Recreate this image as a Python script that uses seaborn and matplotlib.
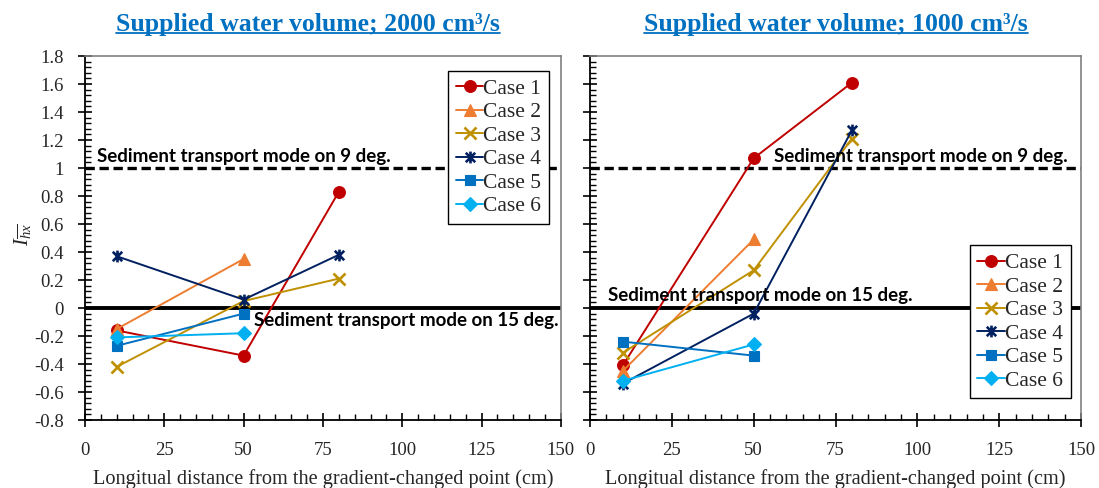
import matplotlib
matplotlib.use("Agg")
import matplotlib.pyplot as plt
import seaborn as sns
import pandas as pd
from matplotlib.ticker import MultipleLocator, FuncFormatter
from matplotlib.lines import Line2D
from matplotlib.path import Path

# ---------------- data ----------------
cases = ["Case 1", "Case 2", "Case 3", "Case 4", "Case 5", "Case 6"]
distance_cm = [10, 50, 80]

# Supplied water volume 2000 cm3/s
q2000_case1 = [-0.16, -0.34, 0.83]
q2000_case2 = [-0.15, 0.35]
q2000_case3 = [-0.42, 0.05, 0.21]
q2000_case4 = [0.37, 0.06, 0.38]
q2000_case5 = [-0.27, -0.04]
q2000_case6 = [-0.21, -0.18]

# Supplied water volume 1000 cm3/s
q1000_case1 = [-0.41, 1.07, 1.61]
q1000_case2 = [-0.45, 0.49]
q1000_case3 = [-0.32, 0.27, 1.21]
q1000_case4 = [-0.54, -0.04, 1.27]
q1000_case5 = [-0.24, -0.34]
q1000_case6 = [-0.52, -0.26]

titles = ["Supplied water volume; 2000 cm\u00b3/s", "Supplied water volume; 1000 cm\u00b3/s"]
xlabel = "Longitual distance from the gradient-changed point (cm)"
ylabel = r"$I_{\overline{hx}}$"
ref_levels = [1.0, 0.0]
ref_labels = ["Sediment transport mode on 9 deg.", "Sediment transport mode on 15 deg."]

colors = ["#C00000", "#ED7D31", "#BF9000", "#002060", "#0070C0", "#00B0F0"]

# Excel-like "star" marker: an x plus a vertical bar
star = Path([(-1, -1), (1, 1), (-1, 1), (1, -1), (0, -1.25), (0, 1.25)],
            [Path.MOVETO, Path.LINETO, Path.MOVETO, Path.LINETO, Path.MOVETO, Path.LINETO])
markers = ["o", "^", "x", star, "s", "D"]
msizes = [8.5, 9, 8.5, 8.5, 7.5, 7]

panels = [
    [q2000_case1, q2000_case2, q2000_case3, q2000_case4, q2000_case5, q2000_case6],
    [q1000_case1, q1000_case2, q1000_case3, q1000_case4, q1000_case5, q1000_case6],
]

# ---------------- style ----------------
sns.set_theme(style="ticks")
plt.rcParams["font.family"] = ["Liberation Serif", "DejaVu Serif"]
plt.rcParams["axes.unicode_minus"] = False
plt.rcParams["mathtext.fontset"] = "custom"
plt.rcParams["mathtext.it"] = "Liberation Serif:italic"
plt.rcParams["mathtext.rm"] = "Liberation Serif"

fig = plt.figure(figsize=(10.99, 4.88), dpi=100)
ax_pos = [[0.0773, 0.1393, 0.4331, 0.7459], [0.5369, 0.1393, 0.4468, 0.7459]]
title_x = [0.468, 0.501]
legend_loc = [("upper right", (0.975, 0.959)), ("lower right", (0.979, 0.060))]
text_pos = [[(3.8, 1.025), (53.3, -0.03)], [(56.2, 1.025), (5.5, 0.03)]]

axes = []
for p in range(2):
    ax = fig.add_axes(ax_pos[p])
    axes.append(ax)
    rows = []
    for ci, vals in enumerate(panels[p]):
        for xi, v in zip(distance_cm, vals):
            rows.append({"case": cases[ci], "x": xi, "I": v})
    df = pd.DataFrame(rows)

    # reference levels
    ax.axhline(ref_levels[0], color="black", lw=2.4, ls=(0, (2.8, 1.4)), zorder=1)
    ax.axhline(ref_levels[1], color="black", lw=2.8, zorder=1)

    for ci, case in enumerate(cases):
        sub = df[df["case"] == case]
        mk = markers[ci]
        filled = mk not in ("x",) and not isinstance(mk, Path)
        sns.lineplot(data=sub, x="x", y="I", ax=ax, color=colors[ci], lw=1.4,
                     marker=mk, markersize=msizes[ci],
                     markeredgecolor=colors[ci], markerfacecolor=colors[ci],
                     markeredgewidth=0.8 if filled else 1.9,
                     label=case, zorder=3, legend=True, sort=False)

    # annotations
    ax.text(*text_pos[p][0], ref_labels[0], family="Lato", fontweight="bold",
            fontsize=13.5, va="bottom", ha="left", color="black", zorder=4)
    ax.text(*text_pos[p][1], ref_labels[1], family="Lato", fontweight="bold",
            fontsize=13.5, va="top" if p == 0 else "bottom", ha="left", color="black", zorder=4)

    ax.set_xlim(0, 150)
    ax.set_ylim(-0.8, 1.8)
    ax.xaxis.set_major_locator(MultipleLocator(25))
    ax.xaxis.set_minor_locator(MultipleLocator(5))
    ax.yaxis.set_major_locator(MultipleLocator(0.2))
    ax.yaxis.set_minor_locator(MultipleLocator(0.04))
    ax.yaxis.set_major_formatter(FuncFormatter(lambda v, pos: "%g" % round(v, 2)))
    ax.tick_params(which="major", direction="inout", length=10, width=1.2,
                   labelsize=13.5, color="black")
    ax.tick_params(which="minor", direction="in", length=4, width=1.0, color="black")
    ax.tick_params(axis="x", which="major", pad=11)
    ax.tick_params(axis="y", which="major", pad=10)
    if p == 1:
        ax.tick_params(axis="y", labelleft=False)

    for s in ["left", "bottom"]:
        ax.spines[s].set_color("black")
        ax.spines[s].set_linewidth(1.3)
    for s in ["top", "right"]:
        ax.spines[s].set_color("#808080")
        ax.spines[s].set_linewidth(1.2)

    ax.set_xlabel(xlabel, fontsize=14.6, labelpad=7)
    if p == 0:
        ax.set_ylabel(ylabel, fontsize=15)
        ax.yaxis.set_label_coords(-0.108, 0.51)
    else:
        ax.set_ylabel("")

    ax.set_title(titles[p], fontsize=18.5, fontweight="bold", color="#0070C0",
                 pad=18, x=title_x[p])

    loc, anchor = legend_loc[p]
    leg = ax.legend(loc=loc, bbox_to_anchor=anchor, fontsize=15.5, frameon=True,
                    fancybox=False, framealpha=1, edgecolor="black",
                    handlelength=1.3, handletextpad=0.0, labelspacing=0.16,
                    borderpad=0.35, borderaxespad=0)
    leg.get_frame().set_linewidth(1.0)

# underline titles
fig.canvas.draw()
renderer = fig.canvas.get_renderer()
for ax in axes:
    bb = ax.title.get_window_extent(renderer)
    inv = fig.transFigure.inverted()
    (x0, y0), (x1, y1) = inv.transform([(bb.x0, bb.y0), (bb.x1, bb.y1)])
    fig.add_artist(Line2D([x0, x1], [y0 + 0.006, y0 + 0.006], color="#0070C0",
                          lw=1.3, transform=fig.transFigure))

fig.savefig("out.png", dpi=100)
